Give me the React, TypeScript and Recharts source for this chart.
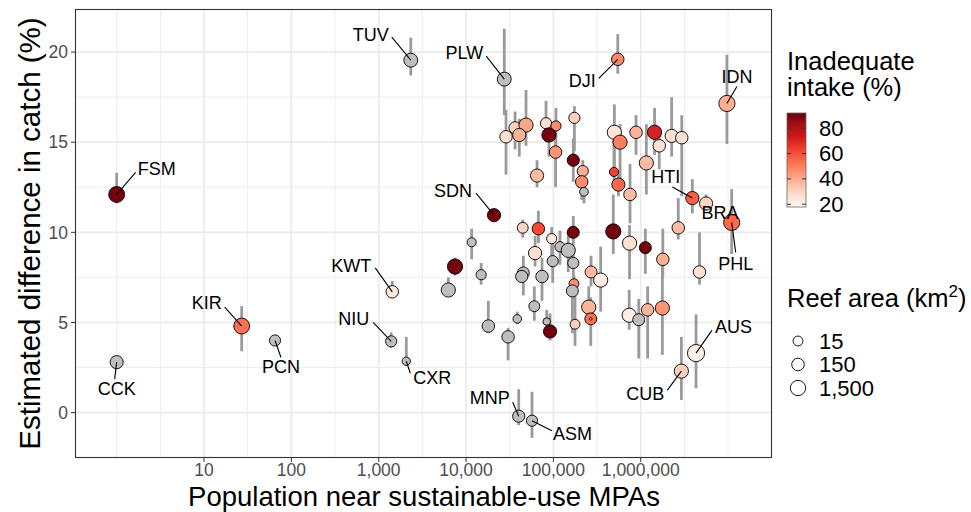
import React from 'react';
import { ScatterChart, Scatter, XAxis, YAxis, CartesianGrid, ErrorBar } from 'recharts';

// labelled countries
const labelCodes = ['FSM', 'CCK', 'KIR', 'PCN', 'KWT', 'NIU', 'CXR', 'TUV', 'PLW', 'SDN', 'DJI', 'IDN', 'HTI', 'BRA', 'PHL', 'CUB', 'AUS', 'MNP', 'ASM'];
const labelPop = [1, 1, 27, 65, 1430, 1390, 2070, 2330, 27400, 20900, 546000, 9700000, 3900000, 5600000, 11000000, 2920000, 4300000, 40100, 56900];
const labelDiff = [12.1, 2.8, 4.8, 4.0, 6.7, 3.95, 2.85, 19.55, 18.5, 10.95, 19.6, 17.15, 11.9, 11.6, 10.55, 2.3, 3.3, -0.2, -0.45];
const labelLow = [11.6, 2.8, 3.4, 3.9, 6.5, 3.6, 2.6, 18.7, 16.5, 10.8, 18.8, 14.9, 11.05, 11.2, 8.8, 0.7, 1.35, -0.7, -1.4];
const labelHigh = [13.3, 2.8, 5.9, 4.1, 7.3, 4.45, 4.2, 20.8, 21.3, 11.1, 21.0, 19.85, 12.95, 12.1, 12.4, 4.2, 5.45, 1.3, 1.15];
const labelIntake = [90, null, 53, null, 24, null, null, null, null, 90, 48, 39, 57, 30, 55, 31, 20, null, null];
const labelReef = [2500, 250, 2500, 46, 140, 46, 4, 470, 470, 255, 140, 3300, 255, 255, 3300, 600, 7700, 110, 46];

// the other countries
const otherPop = [28700, 36400, 48600, 40700, 82400, 107000, 89000, 174000, 106000, 169000,
  217000, 211000, 224000, 65000, 499000, 580000, 884000, 1440000, 2260000, 2950000,
  1630000, 1160000, 494000, 555000, 754000, 44600, 67300, 95700, 169000, 485000,
  745000, 1130000, 1790000, 2690000, 4710000, 11600, 7480, 6270, 14900, 45300,
  43400, 74100, 61700, 119000, 148000, 98200, 169000, 270000, 348000, 172000,
  165000, 60500, 38600, 18000, 30300, 84000, 91600, 177000, 254000, 268000,
  738000, 949000, 1200000, 1770000, 268000];
const otherDiff = [15.3, 15.8, 15.95, 15.4, 16.05, 15.9, 15.4, 16.35, 14.45, 14.0,
  13.4, 12.8, 12.25, 13.15, 15.55, 15.0, 15.55, 15.55, 15.35, 15.25,
  14.8, 13.85, 13.35, 12.65, 12.1, 10.25, 10.2, 9.65, 10.0, 10.05,
  9.4, 9.15, 8.5, 10.25, 7.8, 9.45, 8.1, 6.8, 7.65, 7.75,
  7.55, 7.55, 8.85, 9.2, 9.0, 8.4, 8.3, 7.8, 7.35, 7.15,
  6.75, 5.9, 5.2, 4.8, 4.2, 5.05, 4.5, 4.9, 5.85, 5.2,
  5.4, 5.15, 5.7, 5.8, 5.2];
const otherLow = [13.2, 14.6, 14.8, 14.2, 15.0, 14.8, 14.2, 14.5, 12.5, 12.8,
  12.5, 11.8, 11.6, 12.5, 13.2, 12.3, 14.3, 14.3, 14.2, 12.0,
  13.5, 12.1, 12.7, 12.0, 10.5, 9.7, 9.4, 8.7, 9.0, 8.8,
  7.4, 7.7, 7.5, 9.6, 7.1, 8.5, 7.6, 6.6, 7.1, 6.5,
  7.2, 6.2, 8.1, 8.2, 7.8, 7.2, 7.5, 7.0, 5.6, 6.3,
  4.4, 5.1, 4.9, 4.4, 2.9, 4.3, 4.0, 3.7, 5.1, 3.7,
  4.6, 3.0, 3.0, 3.2, 5.2];
const otherHigh = [16.8, 16.7, 17.9, 16.3, 17.3, 16.9, 16.3, 17.0, 15.3, 15.2,
  14.0, 13.5, 12.6, 14.0, 17.1, 16.0, 16.5, 16.9, 17.5, 16.5,
  15.8, 16.0, 15.4, 13.3, 13.8, 10.7, 11.2, 10.3, 10.9, 12.1,
  10.4, 10.2, 10.2, 11.9, 10.0, 10.2, 8.6, 7.5, 8.3, 8.7,
  7.9, 8.6, 9.8, 10.1, 10.0, 9.6, 9.1, 8.7, 9.2, 7.6,
  7.3, 7.0, 5.6, 6.2, 4.7, 5.7, 5.5, 7.0, 7.0, 6.4,
  6.8, 6.3, 7.0, 8.2, 5.2];
const otherIntake = [27, 31, 41, 38, 27, 47, 90, 31, 45, 90,
  39, 47, null, 36, 25, 50, 38, 71, 27, 27,
  27, 36, 63, 55, 36, 30, 61, 24, 90, 90,
  27, 90, 39, 36, 27, null, 90, null, null, null,
  null, null, 27, null, null, null, null, 36, 21, 47,
  null, null, null, null, null, null, 90, 31, 38, 54,
  21, null, 38, 45, 30];
const otherReef = [140, 110, 600, 255, 46, 20, 600, 46, 140, 110,
  46, 140, 6, 255, 600, 600, 140, 600, 255, 140,
  140, 600, 8, 255, 140, 36, 140, 20, 90, 1400,
  600, 90, 140, 140, 140, 8, 1400, 600, 20, 90,
  110, 140, 255, 20, 600, 46, 46, 90, 600, 15,
  90, 36, 5, 140, 140, 2, 255, 15, 600, 90,
  600, 90, 140, 600, 0.03];

const xTicks = [10, 100, 1000, 10000, 100000, 1000000];
const yTicks = [0, 5, 10, 15, 20];
const intakeTicks = [20, 40, 60, 80];
const reefTicks = [15, 150, 1500];

const X_DOMAIN = [Math.pow(10, -0.477), Math.pow(10, 7.503)];
const Y_DOMAIN = [-2.52, 22.39];
const xMinor = [0, 0.5, 1.5, 2.5, 3.5, 4.5, 5.5, 6.5, 7].map((e) => Math.pow(10, e));
const yMinor = [-2.5, 2.5, 7.5, 12.5, 17.5];

const REDS = ['#fff5f0', '#fee0d2', '#fcbba1', '#fc9272', '#fb6a4a', '#ef3b2c', '#cb181d', '#a50f15', '#67000d'];
const INTAKE_MIN = 17.8;
const INTAKE_MAX = 92;

function hex(h: string) {
  return [1, 3, 5].map((i) => parseInt(h.slice(i, i + 2), 16));
}
function intakeColor(v: number | null) {
  if (v == null) return '#bebebe';
  const t = Math.max(0, Math.min(1, (v - INTAKE_MIN) / (INTAKE_MAX - INTAKE_MIN))) * (REDS.length - 1);
  const i = Math.min(Math.floor(t), REDS.length - 2);
  const f = t - i;
  const a = hex(REDS[i]);
  const b = hex(REDS[i + 1]);
  const c = a.map((x, k) => Math.round(x + (b[k] - x) * f));
  return `rgb(${c[0]},${c[1]},${c[2]})`;
}
const reefDiameter = (a: number) => 7.5 + 2.7 * Math.log10(a);

const makeRows = (pop: number[], diff: number[], low: number[], high: number[], intake: (number | null)[], reef: number[], codes?: string[]) =>
  pop.map((p, i) => ({
    code: codes ? codes[i] : '',
    pop: p,
    diff: diff[i],
    err: [diff[i] - low[i], high[i] - diff[i]],
    intake: intake[i],
    reef: reef[i],
  }));

const labelled = makeRows(labelPop, labelDiff, labelLow, labelHigh, labelIntake, labelReef, labelCodes);
const others = makeRows(otherPop, otherDiff, otherLow, otherHigh, otherIntake, otherReef);
const allPoints = [...labelled, ...others];

// text placement around each labelled point (pixels)
const labelLayout: Record<string, { tx: number; ty: number; anchor: string; seg?: [number, number] }> = {
  FSM: { tx: 21, ty: -25, anchor: 'start', seg: [19, -22] },
  TUV: { tx: -22, ty: -25, anchor: 'end', seg: [-19, -23] },
  PLW: { tx: -21, ty: -26, anchor: 'end', seg: [-18, -23] },
  DJI: { tx: -22, ty: 22, anchor: 'end', seg: [-19, 19] },
  IDN: { tx: 10, ty: -26, anchor: 'middle', seg: [10, -17] },
  SDN: { tx: -22, ty: -24, anchor: 'end', seg: [-18, -22] },
  HTI: { tx: -12, ty: -21, anchor: 'end', seg: [-20, -11] },
  BRA: { tx: 14, ty: 10, anchor: 'middle' },
  PHL: { tx: 4, ty: 42, anchor: 'middle', seg: [4, 30] },
  KWT: { tx: -21, ty: -26, anchor: 'end', seg: [-17, -24] },
  KIR: { tx: -20, ty: -23, anchor: 'end', seg: [-17, -19] },
  NIU: { tx: -22, ty: -22, anchor: 'end', seg: [-18, -19] },
  PCN: { tx: 6, ty: 27, anchor: 'middle', seg: [6, 17] },
  CCK: { tx: 0, ty: 27, anchor: 'middle', seg: [-2, 17] },
  CXR: { tx: 7, ty: 17, anchor: 'start', seg: [4, 12] },
  MNP: { tx: -9, ty: -18, anchor: 'end', seg: [-6, -14] },
  ASM: { tx: 21, ty: 13, anchor: 'start', seg: [20, 10] },
  CUB: { tx: -17, ty: 23, anchor: 'end', seg: [-14, 19] },
  AUS: { tx: 19, ty: -26, anchor: 'start', seg: [16, -23] },
};

const PointShape = (props: any) => {
  const { cx, cy, payload } = props;
  if (cx == null || cy == null) return null;
  const r = Math.max(reefDiameter(payload.reef) / 2 - 0.4, 1);
  return <circle cx={cx} cy={cy} r={r} fill={intakeColor(payload.intake)} stroke="#000" strokeWidth={0.9} />;
};

const LabelShape = (props: any) => {
  const { cx, cy, payload } = props;
  const l = labelLayout[payload.code];
  if (cx == null || !l) return null;
  return (
    <g>
      {l.seg && <line x1={cx} y1={cy} x2={cx + l.seg[0]} y2={cy + l.seg[1]} stroke="#000" strokeWidth={1.1} />}
      <text x={cx + l.tx} y={cy + l.ty} textAnchor={l.anchor as any} dominantBaseline="central" fontSize={18} fill="#000">
        {payload.code}
      </text>
    </g>
  );
};

const fmt = (v: number) => v.toLocaleString('en-US');

// legend geometry
const BAR_X = 787;
const BAR_W = 19;
const BAR_TOP = 113;
const BAR_BOTTOM = 207;
const barY = (v: number) => BAR_BOTTOM - ((v - INTAKE_MIN) / (INTAKE_MAX - INTAKE_MIN)) * (BAR_BOTTOM - BAR_TOP);

export default function App() {
  return (
    <div style={{ position: 'absolute', left: 0, top: 0, width: 971, height: 512, background: '#fff', fontFamily: '"Liberation Sans", Arial, sans-serif' }}>
      <ScatterChart width={971} height={512} margin={{ top: 9, right: 199, bottom: 24, left: 15 }}>
        <CartesianGrid stroke="#ebebeb" strokeWidth={0.9} verticalValues={xMinor} horizontalValues={yMinor} />
        <CartesianGrid stroke="#ebebeb" strokeWidth={1.7} verticalValues={xTicks} horizontalValues={yTicks} />
        <XAxis
          type="number"
          dataKey="pop"
          scale="log"
          domain={X_DOMAIN}
          allowDataOverflow
          ticks={xTicks}
          tickFormatter={fmt}
          height={30}
          axisLine={false}
          tickSize={4}
          tickMargin={2}
          tickLine={{ stroke: '#333', strokeWidth: 1 }}
          tick={{ fill: '#4d4d4d', fontSize: 17.5 }}
          interval={0}
        />
        <YAxis
          type="number"
          dataKey="diff"
          domain={Y_DOMAIN}
          allowDataOverflow
          ticks={yTicks}
          width={60}
          axisLine={false}
          tickSize={4}
          tickMargin={3}
          tickLine={{ stroke: '#333', strokeWidth: 1 }}
          tick={{ fill: '#4d4d4d', fontSize: 17.5 }}
        />
        <Scatter data={allPoints} shape={PointShape} isAnimationActive={false}>
          <ErrorBar dataKey="err" direction="y" width={0} stroke="#9a9a9a" strokeWidth={2.8} />
        </Scatter>
        <Scatter data={labelled} shape={LabelShape} isAnimationActive={false} />
      </ScatterChart>

      <svg width={971} height={512} style={{ position: 'absolute', left: 0, top: 0, pointerEvents: 'none' }}>
        <defs>
          <linearGradient id="reds" x1="0" y1="1" x2="0" y2="0">
            {REDS.map((c, i) => (
              <stop key={c} offset={i / (REDS.length - 1)} stopColor={c} />
            ))}
          </linearGradient>
        </defs>
        <rect x={75.5} y={9.5} width={696} height={448} fill="none" stroke="#333" strokeWidth={1.1} />

        <text x={424} y={506} textAnchor="middle" fontSize={27.5} fill="#000">
          Population near sustainable-use MPAs
        </text>
        <text transform="translate(40,233.5) rotate(-90)" textAnchor="middle" fontSize={29.5} fill="#000">
          Estimated difference in catch (%)
        </text>

        <text x={787} y={70} fontSize={25.5} fill="#000">Inadequate</text>
        <text x={787} y={96} fontSize={25.5} fill="#000">intake (%)</text>
        <rect x={BAR_X} y={BAR_TOP} width={BAR_W} height={BAR_BOTTOM - BAR_TOP} fill="url(#reds)" stroke="#666" strokeWidth={0.8} />
        {intakeTicks.map((t) => (
          <g key={t}>
            <line x1={BAR_X} x2={BAR_X + 4} y1={barY(t)} y2={barY(t)} stroke="#333" strokeWidth={1} />
            <line x1={BAR_X + BAR_W - 4} x2={BAR_X + BAR_W} y1={barY(t)} y2={barY(t)} stroke="#333" strokeWidth={1} />
            <text x={819} y={barY(t)} dominantBaseline="central" fontSize={22} fill="#000">
              {t}
            </text>
          </g>
        ))}

        <text x={787} y={307} fontSize={25.5} fill="#000">
          Reef area (km<tspan dy={-10} fontSize={17}>2</tspan><tspan dy={10}>)</tspan>
        </text>
        {reefTicks.map((t, i) => (
          <g key={t}>
            <circle cx={798} cy={341 + i * 23.5} r={reefDiameter(t) / 2 - 0.4} fill="#fff" stroke="#000" strokeWidth={0.9} />
            <text x={819} y={341 + i * 23.5} dominantBaseline="central" fontSize={22} fill="#000">
              {fmt(t)}
            </text>
          </g>
        ))}
      </svg>
    </div>
  );
}
